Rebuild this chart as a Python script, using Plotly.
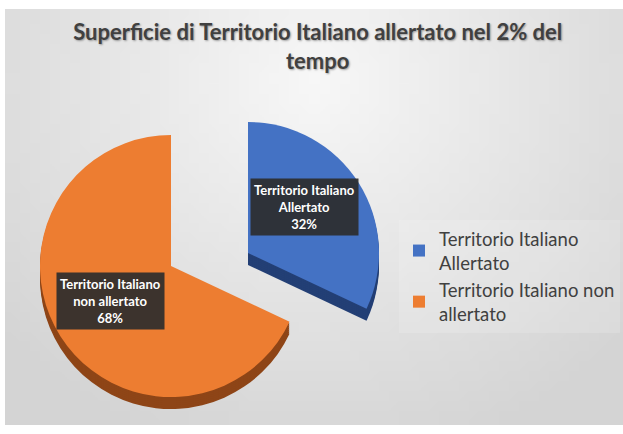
import base64
import struct
import zlib

import plotly.graph_objects as go

# ---------------- data ----------------
categories = ["Territorio Italiano Allertato", "Territorio Italiano non allertato"]
values = [32, 68]
legend_labels = ["Territorio Italiano<br>Allertato", "Territorio Italiano non<br>allertato"]
slice_labels = ["Territorio Italiano<br>Allertato", "Territorio Italiano<br>non allertato"]
colors = ["#4472C4", "#ED7D31"]
side_colors = ["#233f75", "#8e4517"]
title_text = "Superficie di Territorio Italiano allertato nel 2% del<br>tempo"

W, H = 623, 434
TRANSPARENT = "rgba(0,0,0,0)"
FONT = "Lato, 'Open Sans', sans-serif"


# ---------------- background gradient (built as a tiny PNG) ----------------
def gradient_png(w, h):
    rows = []
    for y in range(h):
        row = bytearray([0])
        for x in range(w):
            dx = (x / (w - 1) * 618 - 310) / 430
            dy = (y / (h - 1) * 416 - 70) / 400
            d = min((dx * dx + dy * dy) ** 0.5, 1.0)
            row.append(int(248 - 36 * d))
        rows.append(bytes(row))
    raw = b"".join(rows)

    def chunk(tag, data):
        return (struct.pack(">I", len(data)) + tag + data
                + struct.pack(">I", zlib.crc32(tag + data) & 0xFFFFFFFF))

    png = (b"\x89PNG\r\n\x1a\n"
           + chunk(b"IHDR", struct.pack(">IIBBBBB", w, h, 8, 0, 0, 0, 0))
           + chunk(b"IDAT", zlib.compress(raw, 9))
           + chunk(b"IEND", b""))
    return "data:image/png;base64," + base64.b64encode(png).decode()


def dom(cx, cy, r):
    """Square pie domain (paper fractions) centred on pixel (cx, cy) of radius r."""
    return dict(x=[(cx - r) / W, (cx + r) / W],
                y=[1 - (cy + r) / H, 1 - (cy - r) / H])


R = 131
centres = [(248, 253), (171, 266)]  # blue slice, orange slice
DEPTH = 12

fig = go.Figure()

# Each slice gets its own pie (other slice transparent) so it can be exploded freely;
# darker copies shifted downward give the 3D side.
for i in range(len(categories)):
    cx, cy = centres[i]
    for dy in range(DEPTH, 0, -2):
        cols = [side_colors[j] if j == i else TRANSPARENT for j in range(len(categories))]
        fig.add_trace(go.Pie(
            labels=categories, values=values, sort=False, direction="clockwise",
            rotation=0, marker=dict(colors=cols, line=dict(width=0)),
            textinfo="none", hoverinfo="skip", showlegend=False,
            domain=dom(cx, cy + dy, R)))
    cols = [colors[j] if j == i else TRANSPARENT for j in range(len(categories))]
    fig.add_trace(go.Pie(
        labels=categories, values=values, sort=False, direction="clockwise",
        rotation=0, marker=dict(colors=cols, line=dict(width=0)),
        textinfo="none", hoverinfo="label+percent", showlegend=False,
        domain=dom(cx, cy, R)))

# Legend entries
for name, col in zip(legend_labels, colors):
    fig.add_trace(go.Scatter(x=[None], y=[None], mode="markers", name=name,
                             marker=dict(symbol="square", size=9, color=col)))

# Data labels with dark boxes
total = sum(values)
label_pos = [(304, 207), (110, 301)]
for lab, v, (px, py) in zip(slice_labels, values, label_pos):
    fig.add_annotation(
        x=px / W, y=1 - py / H, xref="paper", yref="paper",
        xanchor="center", yanchor="middle",
        text=f"<b>{lab}<br>{round(v / total * 100)}%</b>",
        showarrow=False, align="center",
        font=dict(family=FONT, size=13, color="white"),
        bgcolor="rgba(45,45,45,0.92)", borderpad=3)

fig.update_layout(
    width=W, height=H,
    margin=dict(l=0, r=0, t=0, b=0, autoexpand=False),
    paper_bgcolor="white", plot_bgcolor="rgba(0,0,0,0)",
    xaxis=dict(visible=False), yaxis=dict(visible=False),
    title=dict(text=f"<b>{title_text}</b>", x=0.51, xanchor="center",
               y=1 - 40 / H, yanchor="top",
               font=dict(family=FONT, size=22, color="#404040",
                         shadow="1px 1px 2px rgba(0,0,0,0.35)")),
    legend=dict(x=399 / W, y=1 - 220 / H, xanchor="left", yanchor="top",
                bgcolor="rgba(255,255,255,0.15)",
                font=dict(family=FONT, size=18.5, color="#404040"),
                tracegroupgap=0, itemsizing="constant"),
    images=[dict(source=gradient_png(62, 42), xref="paper", yref="paper",
                 x=5 / W, y=1 - 9 / H, sizex=1 - 5 / W, sizey=416 / H,
                 xanchor="left", yanchor="top", sizing="stretch", layer="below")],
)

fig.write_html("out.html", config={"displayModeBar": False},
               post_script="document.body.style.margin='0';")
